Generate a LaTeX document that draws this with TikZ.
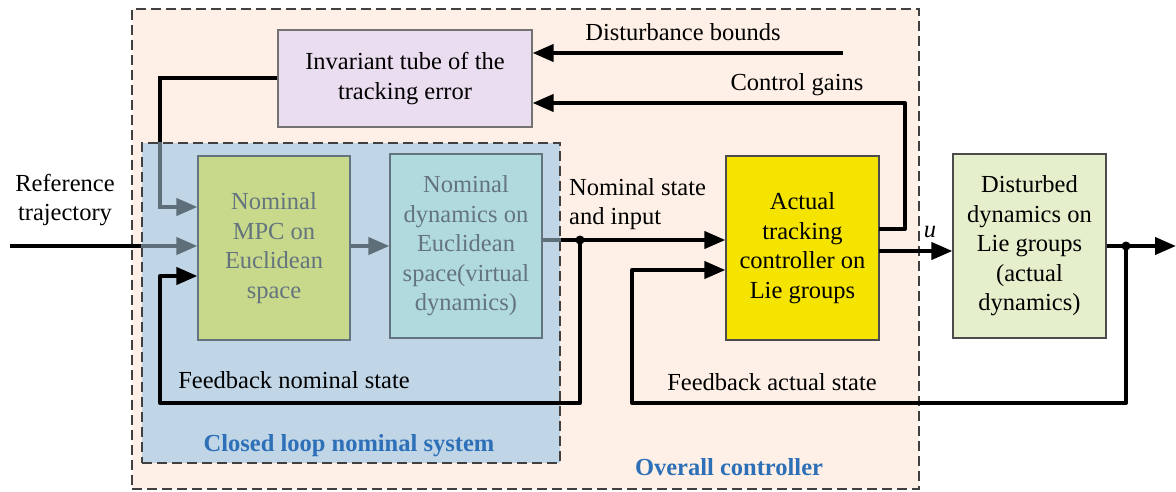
\documentclass[tikz,border=0pt]{standalone}
\usepackage{fontspec}
\setmainfont{LiberationSerif}[Extension=.ttf, UprightFont=*-Regular, BoldFont=*-Bold, ItalicFont=*-Italic, BoldItalicFont=*-BoldItalic]
\usetikzlibrary{arrows.meta,calc}
\definecolor{peach}{RGB}{254,240,230}
\definecolor{bluereg}{RGB}{192,213,229}
\definecolor{mpcgreen}{RGB}{200,217,139}
\definecolor{nomteal}{RGB}{177,218,223}
\definecolor{lavender}{RGB}{234,221,239}
\definecolor{ctrlyellow}{RGB}{245,227,0}
\definecolor{distgreen}{RGB}{230,239,203}
\definecolor{fadegray}{RGB}{95,111,121}
\definecolor{fadetext}{RGB}{100,116,126}
\definecolor{labelblue}{RGB}{46,112,184}
\definecolor{borderdark}{RGB}{64,64,64}
\tikzset{
  txt/.style={font=\fontsize{24.5}{29.5}\selectfont, align=center, inner sep=0pt},
  blockbox/.style={txt, draw=gray!90!black, line width=1.2pt, minimum width=153pt, minimum height=184pt},
  conn/.style={line width=4pt, black},
  gconn/.style={line width=4pt, fadegray},
  tip/.style={-{Triangle[length=21pt,width=17pt]}},
  region/.style={draw=borderdark, line width=1.2pt, dash pattern=on 10pt off 5pt},
  dot/.style={circle, fill=black, inner sep=0pt, minimum size=9pt},
  blabel/.style={font=\fontsize{24.5}{29.5}\selectfont\bfseries, text=labelblue, inner sep=0pt}
}
\begin{document}
\begin{tikzpicture}[x=1pt,y=-1pt]
\useasboundingbox (0,0) rectangle (1176,492);
\fill[white] (0,0) rectangle (1176,492);
% overall region
\node[region, fill=peach, minimum width=787pt, minimum height=480pt, inner sep=0pt] (overall) at (525.5,249) {};
% closed loop region
\node[region, fill=bluereg, minimum width=418pt, minimum height=320pt, inner sep=0pt] (blue) at (351,303) {};
% blocks
\node[blockbox, fill=lavender, minimum width=254pt, minimum height=97pt, text=black] (tube) at (405,78.5) {Invariant tube of the\\tracking error};
\node[blockbox, fill=mpcgreen, draw=fadetext, text=fadetext, minimum width=152pt] (mpc) at (274,248) {Nominal\\MPC on\\Euclidean\\space};
\node[blockbox, fill=nomteal, draw=fadetext, text=fadetext, minimum width=152pt] (nom) at (466,246) {Nominal\\dynamics on\\Euclidean\\space(virtual\\dynamics)};
\node[blockbox, fill=ctrlyellow, draw=gray!60!black, text=black] (ctrl) at (802.5,248) {Actual\\tracking\\controller on\\Lie groups};
\node[blockbox, fill=distgreen, draw=gray!60!black, text=black] (dist) at (1029.5,246) {Disturbed\\dynamics on\\Lie groups\\(actual\\dynamics)};
% coordinates
\coordinate (refstart) at (10,246);
\coordinate (t1) at (160,207);
\coordinate (j1) at (580,240);
\coordinate (c1) at (580,403);
\coordinate (c2) at (160,403);
\coordinate (c3) at (160,276);
\coordinate (j2) at (1126,246);
\coordinate (d1) at (632,403);
\coordinate (d2) at (632,270);
\coordinate (dbs) at (843,53);
\coordinate (cg) at (905,103);
\coordinate (out) at (1176,246);
\coordinate (cgs) at (879,229);
\coordinate (us) at (879,251);
% reference trajectory
\draw[conn] (refstart) -- (refstart -| blue.west);
\draw[gconn, tip] (refstart -| blue.west) -- (refstart -| mpc.west);
% tube -> MPC
\draw[conn] (tube.west) -| (t1 |- blue.north);
\draw[gconn, tip] (t1 |- blue.north) -- (t1) -- (t1 -| mpc.west);
% MPC -> nominal
\draw[gconn, tip] (refstart -| mpc.east) -- (refstart -| nom.west);
% nominal -> controller
\draw[gconn] (j1 -| nom.east) -- (j1 -| blue.east);
\draw[conn, tip] (j1 -| blue.east) -- (j1 -| ctrl.west);
% feedback nominal
\draw[conn, tip, line join=round] (j1) -- (c1) -- (c2) -- (c3) -- (c3 -| mpc.west);
\node[dot] (jd1) at (j1) {};
% controller -> disturbed
\draw[conn, tip] (us) -- (us -| dist.west);
% output
\draw[conn, tip] (dist.east) -- (out);
\node[dot] (jd2) at (j2) {};
% feedback actual
\draw[conn, tip, line join=round] (j2) |- (d1) -- (d2) -- (d2 -| ctrl.west);
% control gains
\draw[conn, tip, line join=round] (cgs) -| (cg) -- (cg -| tube.east);
% disturbance bounds
\draw[conn, tip] (dbs) -- (dbs -| tube.east);
% labels
\node[txt, text=black] (lref) at (65,200) {Reference\\trajectory};
\node[txt, text=black, anchor=west, align=left] (lnom) at (569,204) {Nominal state\\and input};
\node[txt, text=black] (lfbn) at (294,380) {Feedback nominal state};
\node[txt, text=black] (lfba) at (772,382) {Feedback actual state};
\node[txt, text=black] (lcg) at (797,85) {Control gains};
\node[txt, text=black] (ldb) at (683,32) {Disturbance bounds};
\node[txt, text=black, font=\fontsize{24.5}{29.5}\selectfont\itshape] (lu) at (930,232) {u};
\node[blabel] (lcl) at (349,446) {Closed loop nominal system};
\node[blabel] (lov) at (729,467) {Overall controller};
\end{tikzpicture}
\end{document}
